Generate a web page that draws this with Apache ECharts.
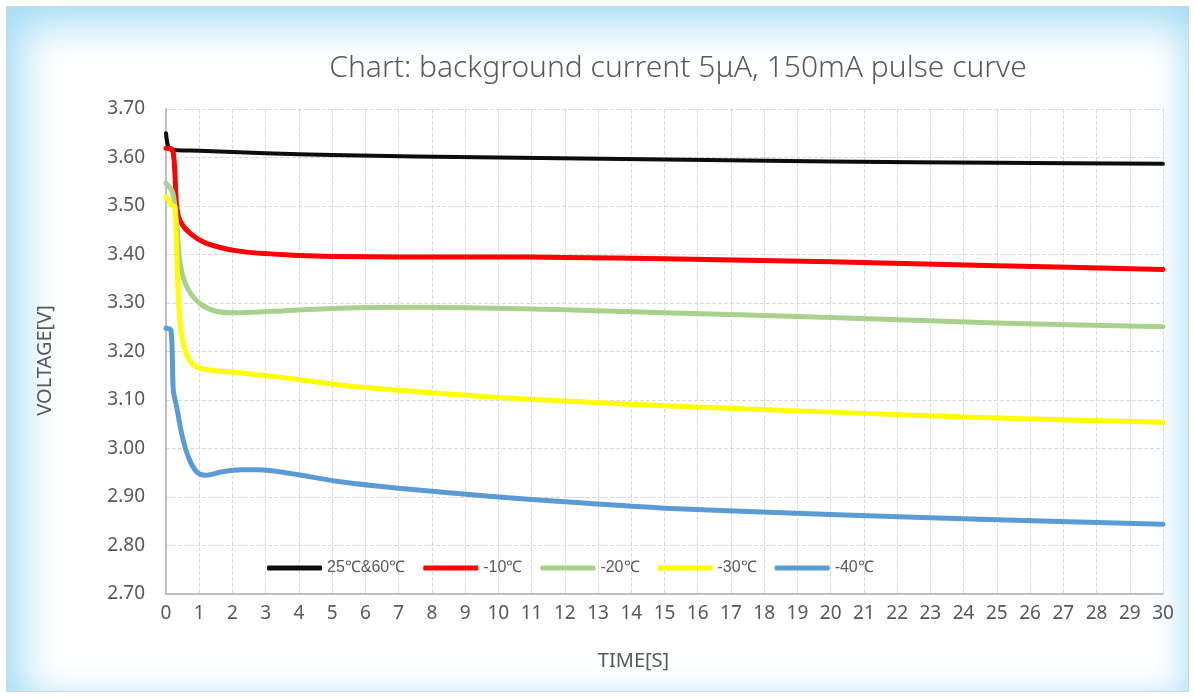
<!DOCTYPE html>
<html>
<head>
<meta charset="utf-8">
<script src="https://cdn.jsdelivr.net/npm/echarts@6/dist/echarts.min.js"></script>
<style>
  html, body { margin: 0; padding: 0; background: #fff; }
  #frame {
    position: absolute; left: 6px; top: 6px; width: 1181px; height: 684px;
    border: 1px solid #d4d4d4;
    box-shadow: inset 28px 30px 40px -12px rgba(150, 215, 242, 0.85),
                inset -22px -12px 30px -14px rgba(160, 220, 245, 0.7);
  }
  #chart { position: absolute; left: 0; top: 0; width: 1195px; height: 698px; }
</style>
</head>
<body>
<div id="frame"></div>
<div id="chart"></div>
<script>
// [time (s), voltage (V)]
const hotData = [[0, 3.650], [0.15, 3.616], [1, 3.614], [3, 3.609], [5, 3.605], [10, 3.600],
  [15, 3.596], [20, 3.592], [25, 3.589], [30, 3.587]];
const minus10Data = [[0, 3.619], [0.2, 3.616], [0.32, 3.500], [0.42, 3.470], [0.72, 3.444],
  [1.22, 3.423], [2.2, 3.407], [3.7, 3.399], [5.2, 3.396], [7, 3.395], [10, 3.395], [12, 3.394],
  [15, 3.391], [20, 3.385], [25, 3.377], [30, 3.369]];
const minus20Data = [[0, 3.547], [0.2, 3.528], [0.32, 3.464], [0.42, 3.385], [0.62, 3.334],
  [1.0, 3.300], [1.5, 3.283], [2.1, 3.280], [3.2, 3.283], [5.2, 3.289], [7.5, 3.291], [10, 3.289],
  [12, 3.286], [15, 3.280], [20, 3.270], [25, 3.259], [30, 3.251]];
const minus30Data = [[0, 3.519], [0.17, 3.502], [0.27, 3.498], [0.32, 3.400], [0.42, 3.260],
  [0.57, 3.203], [0.82, 3.172], [1.2, 3.163], [2.2, 3.156], [3.7, 3.145], [5.2, 3.131], [7, 3.120],
  [10, 3.105], [12, 3.098], [15, 3.088], [20, 3.075], [25, 3.063], [30, 3.054]];
const minus40Data = [[0, 3.248], [0.15, 3.244], [0.22, 3.120], [0.32, 3.086], [0.47, 3.031],
  [0.67, 2.983], [0.92, 2.952], [1.2, 2.945], [1.7, 2.952], [2.3, 2.956], [2.8, 2.956], [3.7, 2.949],
  [5.2, 2.932], [7, 2.918], [10, 2.900], [12, 2.890], [15, 2.877], [20, 2.864], [25, 2.853], [30, 2.844]];

const seriesNames = ['25℃&60℃', '-10℃', '-20℃', '-30℃', '-40℃'];
const seriesData = [hotData, minus10Data, minus20Data, minus30Data, minus40Data];
const seriesColors = ['#0d0d0d', '#ff0000', '#a9d18e', '#ffff00', '#5b9bd5'];
const seriesWidths = [4, 5, 5, 5, 5];

const textColor = '#595959';
const font = '"Noto Sans", "Open Sans", sans-serif';

const chart = echarts.init(document.getElementById('chart'), null, { renderer: 'canvas' });
chart.setOption({
    animation: false,
    backgroundColor: 'transparent',
    title: {
        text: 'Chart: background current 5μA, 150mA pulse curve',
        left: 673,
        top: 48,
        textAlign: 'center',
        textStyle: { color: textColor, fontSize: 30, fontWeight: 300, fontFamily: font }
    },
    legend: {
        left: 262,
        top: 555,
        icon: 'roundRect',
        itemWidth: 55,
        itemHeight: 5,
        itemGap: 18,
        textStyle: { color: textColor, fontSize: 16, fontFamily: '"Liberation Sans Narrow", "Liberation Sans", sans-serif' },
        data: seriesNames
    },
    grid: { left: 166, right: 32, top: 109, bottom: 104 },
    xAxis: {
        type: 'value',
        min: 0,
        max: 30,
        interval: 1,
        name: 'TIME[S]',
        nameLocation: 'middle',
        nameGap: 57,
        nameTextStyle: { color: textColor, fontSize: 20, fontFamily: font, padding: [0, 62, 0, 0] },
        axisLine: { lineStyle: { color: '#bfbfbf', width: 2 } },
        axisTick: { show: false },
        axisLabel: { color: textColor, fontSize: 19, margin: 10, fontFamily: font },
        splitLine: { lineStyle: { color: '#d9d9d9', type: 'dashed' } }
    },
    yAxis: {
        type: 'value',
        min: 2.7,
        max: 3.7,
        interval: 0.1,
        name: 'VOLTAGE[V]',
        nameLocation: 'middle',
        nameGap: 111,
        nameTextStyle: { color: textColor, fontSize: 20, fontFamily: font, padding: [0, 18, 0, 0] },
        axisLine: { show: true, lineStyle: { color: '#bfbfbf', width: 2 } },
        axisTick: { show: false },
        axisLabel: {
            color: textColor, fontSize: 19, margin: 21, fontFamily: font,
            formatter: v => v.toFixed(2)
        },
        splitLine: { lineStyle: { color: '#d9d9d9', type: 'dashed' } }
    },
    series: seriesNames.map((name, i) => ({
        name: name,
        type: 'line',
        data: seriesData[i],
        smooth: 0.3,
        symbol: 'none',
        color: seriesColors[i],
        lineStyle: { color: seriesColors[i], width: seriesWidths[i], cap: 'round', join: 'round' }
    }))
});
</script>
</body>
</html>
